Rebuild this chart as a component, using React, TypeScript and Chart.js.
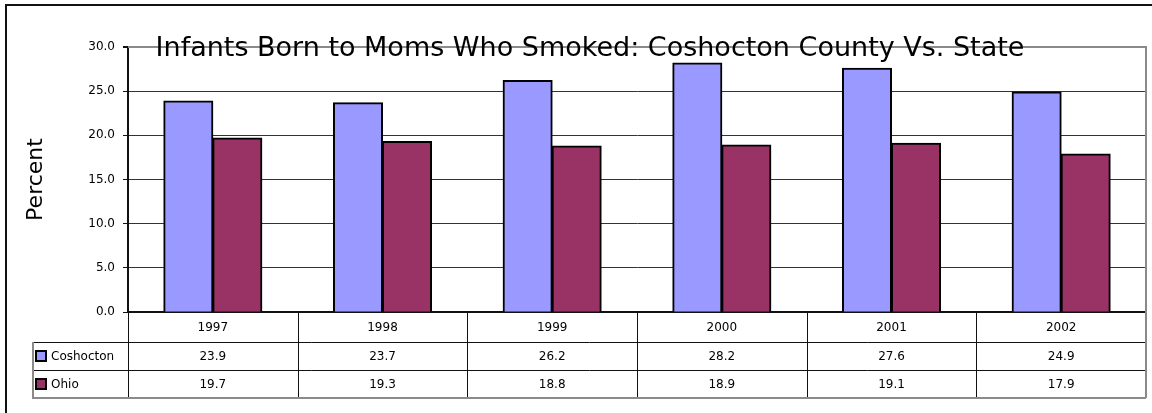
import React, { useEffect, useRef } from 'react';
import { Chart, registerables } from 'chart.js';

Chart.register(...registerables);

const categories = ['1997', '1998', '1999', '2000', '2001', '2002'];
const coshocton = [23.9, 23.7, 26.2, 28.2, 27.6, 24.9];
const ohio = [19.7, 19.3, 18.8, 18.9, 19.1, 17.9];
const seriesNames = ['Coshocton', 'Ohio'];
const seriesColors = ['#9999FF', '#993366'];
const yMin = 0;
const yMax = 30;
const yStep = 5;
const chartTitle = 'Infants Born to Moms Who Smoked: Coshocton County Vs. State';
const yAxisTitle = 'Percent';

const FONT = '"DejaVu Sans", Verdana, sans-serif';

const decorPlugin = {
  id: 'decor',
  beforeDatasetsDraw(chart: any) {
    const { ctx, chartArea: a } = chart;
    ctx.save();
    ctx.strokeStyle = '#8a8a8a';
    ctx.lineWidth = 2;
    ctx.beginPath();
    ctx.moveTo(a.left, a.top);
    ctx.lineTo(a.right, a.top);
    ctx.lineTo(a.right, a.bottom);
    ctx.stroke();
    ctx.restore();
  },
  afterDraw(chart: any) {
    const { ctx, chartArea: a } = chart;
    ctx.save();
    // outer border
    ctx.strokeStyle = '#111';
    ctx.lineWidth = 2;
    ctx.strokeRect(6, 5, 1200, 500);

    // data table
    const n = categories.length;
    const colW = (a.right - a.left) / n;
    const headTop = a.bottom;
    const r1 = headTop + 30;
    const r2 = r1 + 28;
    const r3 = r2 + 28;
    const legLeft = 33;

    ctx.lineWidth = 1;
    ctx.strokeStyle = '#111';
    ctx.beginPath();
    ctx.moveTo(legLeft, r1 + 0.5);
    ctx.lineTo(a.right, r1 + 0.5);
    ctx.moveTo(legLeft, r2 + 0.5);
    ctx.lineTo(a.right, r2 + 0.5);
    for (let i = 0; i < n; i++) {
      const x = Math.round(a.left + i * colW) + 0.5;
      ctx.moveTo(x, headTop);
      ctx.lineTo(x, r3);
    }
    ctx.stroke();

    ctx.strokeStyle = '#8a8a8a';
    ctx.lineWidth = 2;
    ctx.beginPath();
    ctx.moveTo(legLeft, r1);
    ctx.lineTo(legLeft, r3);
    ctx.lineTo(a.right, r3);
    ctx.moveTo(a.right, headTop);
    ctx.lineTo(a.right, r3);
    ctx.stroke();

    ctx.fillStyle = '#000';
    ctx.font = '12px ' + FONT;
    ctx.textAlign = 'center';
    ctx.textBaseline = 'middle';
    const xs = chart.scales.x;
    const rows = [coshocton, ohio];
    for (let i = 0; i < n; i++) {
      const cx = xs.getPixelForValue(i);
      ctx.fillText(categories[i], cx, (headTop + r1) / 2 + 1);
      ctx.fillText(rows[0][i].toFixed(1), cx, (r1 + r2) / 2 + 1);
      ctx.fillText(rows[1][i].toFixed(1), cx, (r2 + r3) / 2 + 1);
    }
    // legend keys
    const rowTops = [r1, r2];
    for (let s = 0; s < seriesNames.length; s++) {
      const cy = (rowTops[s] + rowTops[s] + 28) / 2;
      ctx.fillStyle = seriesColors[s];
      ctx.fillRect(36, cy - 5, 10, 10);
      ctx.strokeStyle = '#000';
      ctx.lineWidth = 2;
      ctx.strokeRect(36, cy - 5, 10, 10);
      ctx.fillStyle = '#000';
      ctx.textAlign = 'left';
      ctx.fillText(seriesNames[s], 51, cy + 1);
    }

    // title
    ctx.font = '27px ' + FONT;
    ctx.textAlign = 'center';
    ctx.textBaseline = 'alphabetic';
    ctx.fillStyle = '#000';
    ctx.fillText(chartTitle, 590, 56);
    ctx.restore();
  },
};

export default function App() {
  const ref = useRef<HTMLCanvasElement>(null);
  useEffect(() => {
    if (!ref.current) return;
    const chart = new Chart(ref.current, {
      type: 'bar',
      data: {
        labels: categories,
        datasets: [
          {
            label: seriesNames[0],
            data: coshocton,
            backgroundColor: seriesColors[0],
            borderColor: '#000',
            borderWidth: 2,
            borderSkipped: 'start',
            inflateAmount: 0.5,
          },
          {
            label: seriesNames[1],
            data: ohio,
            backgroundColor: seriesColors[1],
            borderColor: '#000',
            borderWidth: 2,
            borderSkipped: 'start',
            inflateAmount: 0.5,
          },
        ],
      },
      options: {
        responsive: false,
        animation: false,
        layout: { padding: { top: 47, right: 6, left: 0, bottom: 0 } },
        plugins: {
          legend: { display: false },
          title: { display: false },
          tooltip: { enabled: false },
        },
        datasets: {
          bar: { categoryPercentage: 0.578, barPercentage: 1 },
        },
        scales: {
          x: {
            grid: { display: false },
            ticks: { display: false },
            border: { display: true, color: '#111', width: 2 },
            afterFit: (s: any) => {
              s.height = 101;
            },
          },
          y: {
            min: yMin,
            max: yMax,
            ticks: {
              stepSize: yStep,
              padding: 8,
              color: '#000',
              font: { family: FONT, size: 12 },
              callback: (v: any) => Number(v).toFixed(1),
            },
            grid: {
              color: (c: any) => (c.tick && c.tick.value === yMax ? '#8a8a8a' : '#333'),
              lineWidth: (c: any) => (c.tick && c.tick.value === yMax ? 2 : 1),
              tickColor: '#111',
              tickLength: 5,
            },
            border: { display: true, color: '#111', width: 2 },
            title: {
              display: true,
              text: yAxisTitle,
              color: '#000',
              font: { family: FONT, size: 22 },
              padding: { top: 23, bottom: 0 },
            },
            afterFit: (s: any) => {
              s.width = 128;
            },
          },
        },
      },
      plugins: [decorPlugin],
    });
    return () => chart.destroy();
  }, []);
  return (
    <div style={{ position: 'absolute', left: 0, top: 0, width: 1152, height: 413, background: '#fff' }}>
      <canvas ref={ref} width={1152} height={413} style={{ display: 'block' }} />
    </div>
  );
}
